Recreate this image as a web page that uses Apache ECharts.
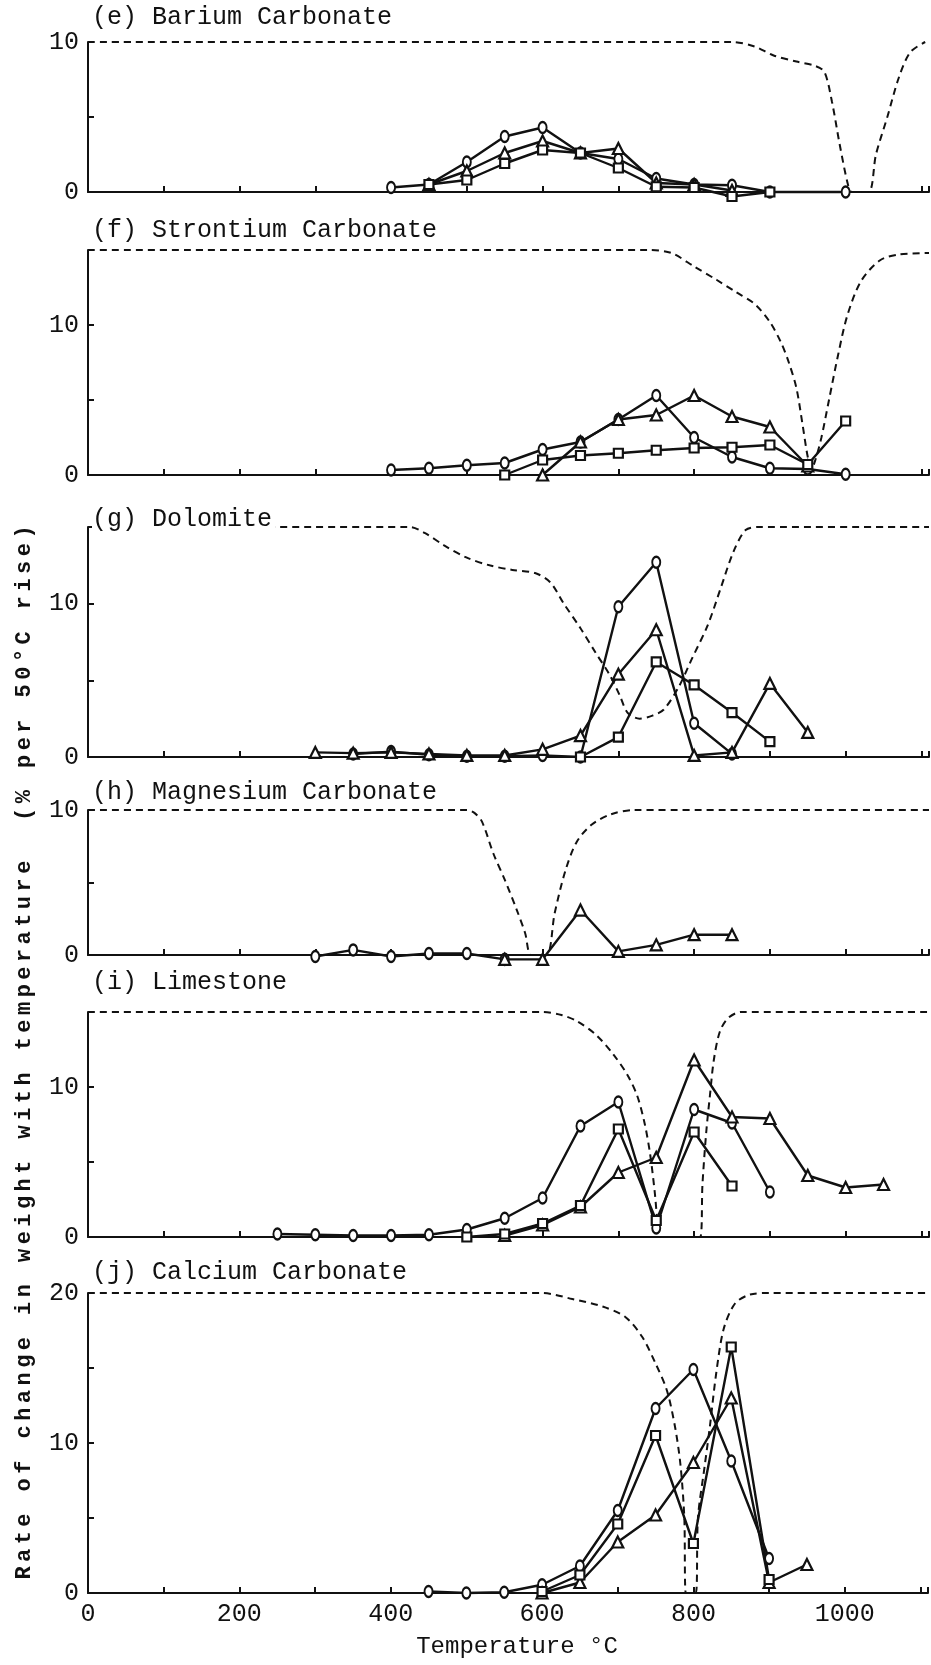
<!DOCTYPE html>
<html>
<head>
<meta charset="utf-8">
<script src="https://cdn.jsdelivr.net/npm/echarts@6/dist/echarts.min.js"></script>
<style>
  html, body { margin: 0; padding: 0; background: #fff; }
  #chart { width: 931px; height: 1665px; }
</style>
</head>
<body>
<div id="chart"></div>
<script>
// Rate of weight change (% per 50 °C rise) against temperature (°C).
// Each run is a list of [temperature, rate] pairs; the dashed trace is the thermal curve.

// (e) Barium carbonate
const baCircle   = [[400,0.3],[450,0.5],[500,2.0],[550,3.7],[600,4.3],[650,2.6],[700,2.2],[750,0.9],[800,0.5],[850,0.45],[900,0],[1000,0]];
const baTriangle = [[450,0.5],[500,1.4],[550,2.6],[600,3.4],[650,2.6],[700,2.9],[750,0.6],[800,0.5],[850,0.1]];
const baSquare   = [[450,0.5],[500,0.8],[550,1.9],[600,2.8],[650,2.6],[700,1.6],[750,0.35],[800,0.3],[850,-0.3],[900,0]];
const baCurve    = [[0,10],[850,10],[880,9.7],[905,9.1],[935,8.7],[960,8.4],[972,8.0],[982,6.0],[992,3.2],[1003,0.5],[1008,0],[1030,0],[1040,2.5],[1055,5],[1070,7.6],[1085,9.3],[1105,10]];

// (f) Strontium carbonate
const srCircle   = [[400,0.33],[450,0.45],[500,0.65],[550,0.8],[600,1.7],[650,2.2],[700,3.7],[750,5.3],[800,2.5],[850,1.2],[900,0.45],[950,0.4],[1000,0.05]];
const srTriangle = [[600,0],[650,2.2],[700,3.7],[750,4.0],[800,5.3],[850,3.9],[900,3.2],[950,0.6]];
const srSquare   = [[550,0],[600,1.0],[650,1.3],[700,1.45],[750,1.65],[800,1.8],[850,1.85],[900,2.0],[950,0.7],[1000,3.6]];
const srCurve    = [[0,15],[740,15],[770,14.8],[800,13.9],[830,13.0],[855,12.2],[880,11.4],[900,10.2],[915,8.8],[925,7.5],[935,5.8],[943,3.4],[950,1.2],[955,0.4],[960,1.0],[968,2.5],[978,5.0],[990,8.0],[1002,10.6],[1020,12.9],[1045,14.3],[1070,14.7],[1110,14.8]];

// (g) Dolomite
const doCircle   = [[350,0.2],[400,0.35],[450,0.15],[500,0.05],[550,0.05],[600,0.1],[650,0],[700,9.8],[750,12.7],[800,2.2],[850,0.2]];
const doTriangle = [[300,0.3],[350,0.25],[400,0.3],[450,0.2],[500,0.1],[550,0.1],[600,0.5],[650,1.4],[700,5.4],[750,8.3],[800,0.1],[850,0.3],[900,4.8],[950,1.6]];
const doSquare   = [[650,0],[700,1.3],[750,6.2],[800,4.7],[850,2.9],[900,1.0]];
const doCurve    = [[0,15],[425,15],[445,14.6],[470,13.8],[500,13.0],[530,12.5],[560,12.2],[590,12.0],[610,11.4],[628,10.0],[650,8.4],[670,6.8],[688,5.4],[702,4.0],[712,2.9],[728,2.5],[745,2.7],[760,3.1],[780,4.6],[797,6.4],[818,8.6],[835,11.0],[852,13.4],[868,14.8],[885,15],[1110,15]];

// (h) Magnesium carbonate
const mgCircle   = [[300,-0.1],[350,0.35],[400,-0.1],[450,0.1],[500,0.1],[550,-0.3]];
const mgTriangle = [[550,-0.3],[600,-0.3],[650,3.1],[700,0.25],[750,0.7],[800,1.4],[850,1.4]];
const mgCurve    = [[0,10],[500,10],[510,9.8],[520,9.2],[535,7.0],[550,5.2],[566,3.1],[577,1.5],[585,0],[605,0],[616,2.9],[630,5.8],[645,7.8],[665,9.0],[690,9.7],[720,10],[1110,10]];

// (i) Limestone
const lsCircle   = [[250,0.2],[300,0.15],[350,0.1],[400,0.1],[450,0.15],[500,0.5],[550,1.25],[600,2.6],[650,7.4],[700,9.0],[750,0.6],[800,8.5],[850,7.6],[900,3.0]];
const lsTriangle = [[550,0.1],[600,0.8],[650,2.0],[700,4.3],[750,5.3],[800,11.8],[850,8.0],[900,7.9],[950,4.1],[1000,3.3],[1050,3.5]];
const lsSquare   = [[500,0],[550,0.2],[600,0.9],[650,2.1],[700,7.2],[750,1.1],[800,7.0],[850,3.4]];
const lsCurve    = [[0,15],[600,15],[625,14.8],[645,14.4],[670,13.5],[693,12.2],[712,10.8],[725,9.4],[735,7.5],[742,5.5],[748,3.0],[752,0.8],[755,0],[808,0],[811,3.5],[816,7],[821,9.5],[826,11.8],[834,13.7],[845,14.6],[862,15],[1110,15]];

// (j) Calcium carbonate
const caCircle   = [[450,0.1],[500,0],[550,0.05],[600,0.55],[650,1.8],[700,5.5],[750,12.3],[800,14.9],[850,8.8],[900,2.3]];
const caSquare   = [[600,0.1],[650,1.2],[700,4.6],[750,10.5],[800,3.3],[850,16.4],[900,0.9]];
const caTriangle = [[600,0],[650,0.7],[700,3.4],[750,5.2],[800,8.7],[850,13.0],[900,0.7],[950,1.9]];
const caCurve    = [[0,20],[600,20],[640,19.6],[680,19.1],[710,18.4],[732,17.1],[750,15.3],[765,13.5],[776,11.0],[783,8.5],[788,5.0],[790,0],[803,0],[806,5],[815,8.5],[822,11.2],[830,14.6],[840,17.6],[855,19.3],[875,19.9],[900,20],[1110,20]];

const panelTitles = ['(e) Barium Carbonate', '(f) Strontium Carbonate', '(g) Dolomite',
                     '(h) Magnesium Carbonate', '(i) Limestone', '(j) Calcium Carbonate'];
const yMax = [10, 15, 15, 10, 15, 20];
const xMax = 1110;
const xLabelStep = 200;
const yLabelStep = 10;
const xTitle = 'Temperature \u00b0C';
const yTitle = 'Rate of change in weight with temperature  (% per 50\u00b0C rise)';

// layout of the stacked panels
const layout = [
  { top: 42,   height: 150, titleY: 19 },
  { top: 250,  height: 225, titleY: 232 },
  { top: 527,  height: 230, titleY: 521 },
  { top: 810,  height: 145, titleY: 794 },
  { top: 1012, height: 225, titleY: 984 },
  { top: 1293, height: 300, titleY: 1274 }
];

const panelRuns = [
  { circle: [baCircle], triangle: [baTriangle], rect: [baSquare], curve: baCurve },
  { circle: [srCircle], triangle: [srTriangle], rect: [srSquare], curve: srCurve },
  { circle: [doCircle], triangle: [doTriangle], rect: [doSquare], curve: doCurve },
  { circle: [mgCircle], triangle: [mgTriangle], rect: [],         curve: mgCurve },
  { circle: [lsCircle], triangle: [lsTriangle], rect: [lsSquare], curve: lsCurve },
  { circle: [caCircle], triangle: [caTriangle], rect: [caSquare], curve: caCurve }
];

const INK = '#111';
const MONO = '"Liberation Mono", "DejaVu Sans Mono", monospace';
const LEFT = 88, RIGHT = 2;
const last = layout.length - 1;

const grids = layout.map(l => ({ left: LEFT, right: RIGHT, top: l.top, height: l.height }));

const xAxes = layout.map((l, i) => ({
  gridIndex: i, type: 'value', min: 0, max: xMax, interval: 100,
  axisLine: { onZero: false, lineStyle: { color: INK, width: 2 } },
  axisTick: { inside: true, length: 6, lineStyle: { color: INK, width: 2 } },
  axisLabel: {
    show: i === last, color: INK, fontFamily: MONO, fontSize: 25, margin: 9,
    formatter: v => (v % xLabelStep === 0 ? String(v) : '')
  },
  splitLine: { show: false }
}));

const yAxes = layout.map((l, i) => ({
  gridIndex: i, type: 'value', min: 0, max: yMax[i], interval: 5,
  axisLine: { show: true, lineStyle: { color: INK, width: 2 } },
  axisTick: { show: true, inside: true, length: 6, lineStyle: { color: INK, width: 2 } },
  axisLabel: {
    color: INK, fontFamily: MONO, fontSize: 25, margin: 9,
    formatter: v => (v % yLabelStep === 0 ? String(v) : '')
  },
  splitLine: { show: false }
}));

const symbolSizes = { circle: [8, 11], triangle: 11, rect: 9 };
const series = [];
panelRuns.forEach((p, i) => {
  series.push({
    type: 'line', xAxisIndex: i, yAxisIndex: i, data: p.curve,
    symbol: 'none', smooth: 0.3, silent: true, z: 1,
    lineStyle: { color: INK, width: 2, type: [7, 5] }
  });
  ['circle', 'triangle', 'rect'].forEach(sym => {
    p[sym].forEach(run => {
      series.push({
        type: 'line', xAxisIndex: i, yAxisIndex: i, data: run,
        symbol: sym, symbolSize: symbolSizes[sym], showSymbol: true, clip: false,
        silent: true, z: 3,
        lineStyle: { color: INK, width: 2.4 },
        itemStyle: { color: '#fff', borderColor: INK, borderWidth: 2.2 }
      });
    });
  });
});

const graphics = [];
layout.forEach((l, i) => {
  graphics.push({
    type: 'text', left: 92, top: l.titleY - 14, z: 100,
    style: {
      text: panelTitles[i], font: '25px ' + MONO, fill: INK,
      backgroundColor: '#fff', padding: [0, 3, 0, 0]
    }
  });
});
graphics.push({
  type: 'text', x: 517, y: 1647, z: 100,
  style: { text: xTitle, font: '24px ' + MONO, fill: INK, align: 'center', verticalAlign: 'middle' }
});
// vertical title, typewriter-spaced one character at a time (bottom to top)
const yTitleBottom = 1573, yTitleTop = 532;
const yStep = (yTitleBottom - yTitleTop) / (yTitle.length - 1);
for (let k = 0; k < yTitle.length; k++) {
  graphics.push({
    type: 'text', x: 24, y: yTitleBottom - k * yStep, rotation: Math.PI / 2, z: 100,
    style: { text: yTitle[k], font: 'bold 22px ' + MONO, fill: INK, align: 'center', verticalAlign: 'middle' }
  });
}

const chart = echarts.init(document.getElementById('chart'), null, { renderer: 'canvas' });
chart.setOption({
  animation: false,
  backgroundColor: '#fff',
  grid: grids,
  xAxis: xAxes,
  yAxis: yAxes,
  series: series,
  graphic: { elements: graphics }
});
</script>
</body>
</html>
